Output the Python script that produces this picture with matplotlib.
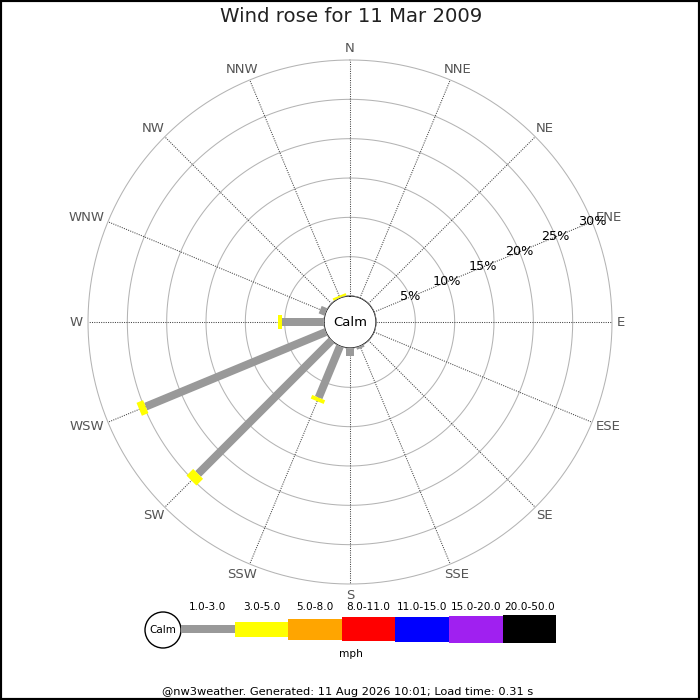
import numpy as np
import matplotlib
matplotlib.use("Agg")
import matplotlib.pyplot as plt
from matplotlib.patches import Rectangle, Circle

# ---------------- data ----------------
directions = ["N", "NNE", "NE", "ENE", "E", "ESE", "SE", "SSE",
              "S", "SSW", "SW", "WSW", "W", "WNW", "NW", "NNW"]
# percent of time per direction, per speed band (mph)
band_1_3 = [0.0, 0.0, 0.0, 0.0, 0.0, 0.0, 0.0, 0.3,
            1.0, 7.1, 24.0, 24.8, 5.3, 0.8, 0.0, 0.0]
band_3_5 = [0.0, 0.0, 0.0, 0.0, 0.0, 0.0, 0.0, 0.0,
            0.0, 0.5, 1.2, 0.9, 0.5, 0.0, 0.0, 0.3]
speed_bins = ["1.0-3.0", "3.0-5.0", "5.0-8.0", "8.0-11.0",
              "11.0-15.0", "15.0-20.0", "20.0-50.0"]
bin_colors = ["#999999", "#ffff00", "#ffa500", "#ff0000",
              "#0000ff", "#a020f0", "#000000"]
ring_pcts = [5, 10, 15, 20, 25, 30]
title = "Wind rose for 11 Mar 2009"
footer = "@nw3weather. Generated: 11 Aug 2026 10:01; Load time: 0.31 s"

# ---------------- layout ----------------
W = H = 700
DPI = 100
fig = plt.figure(figsize=(W / DPI, H / DPI), dpi=DPI)
fig.patch.set_facecolor("white")

cx, cy = 350, 322          # centre (pixels from top-left)
R_OUT = 262                # outer ring radius px
R_CALM = 26                # calm circle radius px
RMAX = 30
RO = -R_CALM * RMAX / (R_OUT - R_CALM)   # r origin

def px_to_r(rpx):
    return RO + rpx / R_OUT * (RMAX - RO)

ax = fig.add_axes([(cx - R_OUT) / W, (H - cy - R_OUT) / H, 2 * R_OUT / W, 2 * R_OUT / H],
                  projection="polar")
ax.set_theta_zero_location("N")
ax.set_theta_direction(-1)
ax.set_rorigin(RO)
ax.set_ylim(0, RMAX)
ax.grid(False)
ax.set_xticks([])
ax.set_yticks([])
ax.spines["polar"].set_visible(False)
ax.patch.set_alpha(0)

thetas = np.deg2rad(np.arange(16) * 22.5)
full = np.linspace(0, 2 * np.pi, 400)

# rings
for p in ring_pcts:
    ax.plot(full, np.full_like(full, p), color="#b4b4b4", lw=0.75, zorder=1,
            clip_on=False)
# spokes
for th in thetas:
    ax.plot([th, th], [0, RMAX], color="#444444", lw=0.75,
            linestyle=(0, (1, 1.2)), zorder=1, clip_on=False)
# calm circle
ax.plot(full, np.zeros_like(full), color="#aaaaaa", lw=0.8, zorder=5)

# bars
pt = 72 / DPI
for th, g, y in zip(thetas, band_1_3, band_3_5):
    if g > 0:
        ax.plot([th, th], [0, g], color=bin_colors[0], lw=8 * pt,
                solid_capstyle="butt", zorder=3)
    if y > 0:
        ax.plot([th, th], [g, g + y], color=bin_colors[1], lw=14 * pt,
                solid_capstyle="butt", zorder=3)

ax.text(0.5, 0.5, "Calm", transform=ax.transAxes, ha="center", va="center",
        fontsize=9.5, color="black", zorder=6)

# percent labels along ENE
th_lab = np.deg2rad(67.5)
for p in ring_pcts:
    ax.text(th_lab, p, f"{p}%", ha="center", va="center", fontsize=9.2,
            color="black", zorder=6)

# direction labels
renderer = fig.canvas.get_renderer()
R_LAB = px_to_r(267)
for th, d in zip(thetas, directions):
    t = ax.text(th, R_LAB, d, ha="center", va="center", fontsize=9.5,
                color="#555555", zorder=6)
    bb = t.get_window_extent(renderer=renderer)
    ux, uy = np.sin(th), np.cos(th)
    t.remove()
    ax.annotate(d, xy=(th, R_LAB), xytext=(bb.width / 2 * ux, bb.height / 2 * uy),
                textcoords="offset pixels", ha="center", va="center",
                fontsize=9.5, color="#555555", annotation_clip=False)

# ---------------- overlay: title, legend, footer, border ----------------
ov = fig.add_axes([0, 0, 1, 1], zorder=10)
ov.set_xlim(0, W)
ov.set_ylim(H, 0)
ov.patch.set_alpha(0)
ov.set_xticks([])
ov.set_yticks([])
for s in ov.spines.values():
    s.set_linewidth(3.0)
    s.set_color("black")

ov.text(351, 17, title, ha="center", va="center", fontsize=14.2, color="#222222")

# legend
ov.add_patch(Circle((163, 630), 18, facecolor="white", edgecolor="black", lw=1))
ov.text(163, 630, "Calm", ha="center", va="center", fontsize=7.5)
box_x0 = 181
box_w = 53.6
box_h = [8, 15, 21, 24, 25, 27, 28]
for i, (lab, col) in enumerate(zip(speed_bins, bin_colors)):
    x0 = box_x0 + i * box_w
    ov.add_patch(Rectangle((x0, 629 - box_h[i] / 2), box_w, box_h[i],
                           facecolor=col, edgecolor="none"))
    ov.text(x0 + box_w / 2, 607, lab, ha="center", va="center", fontsize=7.6)
ov.text(351, 654, "mph", ha="center", va="center", fontsize=7.6)
ov.text(348, 692, footer, ha="center", va="center", fontsize=8.2)

fig.savefig("out.png", dpi=DPI)
